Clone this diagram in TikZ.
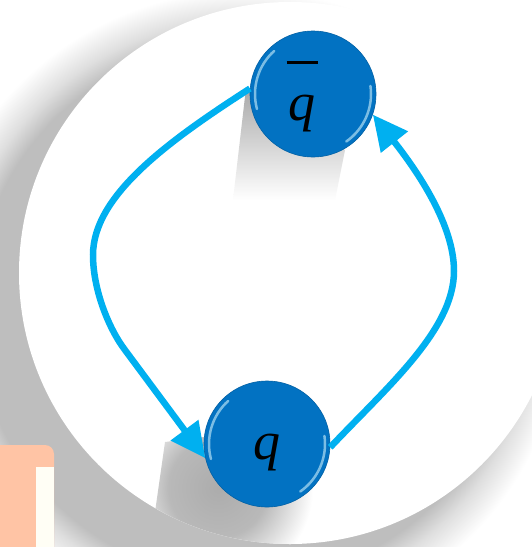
\documentclass[tikz,border=0pt]{standalone}
\usepackage{fontspec}
\setmainfont{Liberation Serif}
\usetikzlibrary{arrows.meta}

\definecolor{ballblue}{RGB}{2,114,194}
\definecolor{arrowcyan}{RGB}{0,176,240}
\definecolor{shadowgray}{RGB}{190,190,190}
\definecolor{peach}{RGB}{255,196,165}
\definecolor{cream}{RGB}{255,254,245}

\pgfdeclareradialshading{discshadow}{\pgfpoint{0bp}{0bp}}{color(0bp)=(shadowgray); color(21.1bp)=(shadowgray); color(22.7bp)=(shadowgray!50!white); color(25bp)=(white); color(50bp)=(white)}
\pgfdeclareradialshading{ballshadow}{\pgfpoint{0bp}{0bp}}{color(0bp)=(gray!65); color(13bp)=(gray!55); color(25bp)=(white); color(50bp)=(white)}

\begin{document}
\begin{tikzpicture}[x=1pt, y=-1pt,
  ball/.style={circle, fill=ballblue, draw=ballblue!85!black, line width=0.6pt, minimum size=126pt, inner sep=0pt, text=black, align=center, font=\fontsize{54}{57}\selectfont\itshape,
    path picture={
      \draw[cyan!20!white, opacity=0.6, line width=2.5pt, line cap=round] ([shift={(132:58pt)}]path picture bounding box.center) arc[start angle=132, end angle=195, radius=58pt];
      \draw[cyan!20!white, opacity=0.6, line width=2.5pt, line cap=round] ([shift={(8:58pt)}]path picture bounding box.center) arc[start angle=8, end angle=-55, radius=58pt];
    }},
  flow/.style={draw=arrowcyan, line width=6.5pt, -{Triangle[length=35pt, width=33pt]}},
]
\useasboundingbox (0,0) rectangle (532,547);
\clip (0,0) rectangle (532,547);
\fill[white] (0,0) rectangle (532,547);
\shade[shading=discshadow] (245,310) circle (320);
\fill[white] (290,273) circle (271);
\shade[top color=gray!68, middle color=gray!52, bottom color=white] (246,88) -- (233,200) -- (335,200) -- (345,150) -- cycle;
\begin{scope}
  \clip (290,273) circle (271);
  \clip (212,436) -- (165,442) -- (150,547) -- (320,547) -- (320,436) -- cycle;
  \shade[shading=ballshadow] (218,488) circle (95);
\end{scope}
\node[ball] (qbar) at (313,94) {\rule{0pt}{8pt}\rule{31pt}{2.5pt}\hspace*{22pt}\\q\hspace*{22pt}};
\node[ball, text height=40pt, text depth=10pt] (q) at (267,444) {q};
\draw[flow] (qbar.175) .. controls (170,140) and (93,195) .. (93,255) .. controls (93,290) and (109,329) .. (125,350) -- (q.193);
\draw[flow] (q.-3) .. controls (387,387) and (454,330) .. (454,271) .. controls (454,225) and (418,172) .. (qbar.-19);
\fill[peach, rounded corners=9pt] (-20,445) -- (54,445) -- (54,570) -- (-20,570) -- cycle;
\fill[cream] (36,467) rectangle (54,547);
\end{tikzpicture}
\end{document}
